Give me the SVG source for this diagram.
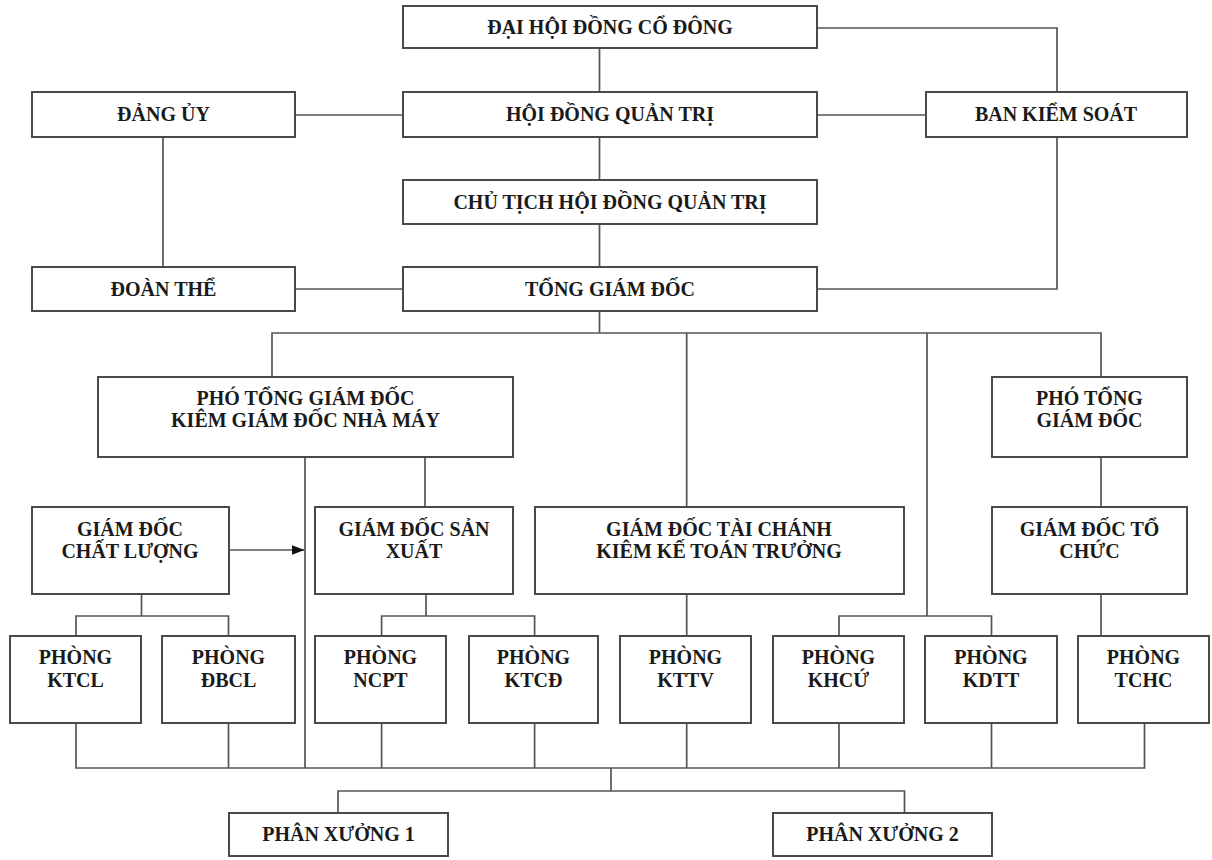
<svg xmlns="http://www.w3.org/2000/svg" width="1212" height="860" viewBox="0 0 1212 860">
<style>
.b{fill:#fff;stroke:#4a4a4a;stroke-width:2}
.t{font-family:"Liberation Serif","Times New Roman",serif;font-weight:bold;font-size:20px;fill:#1a1a1a;text-anchor:middle}
.c{fill:none;stroke:#555;stroke-width:1.7}
</style>
<defs>
<marker id="ah" viewBox="0 0 13 10" refX="13" refY="5" markerWidth="13" markerHeight="10" markerUnits="userSpaceOnUse" orient="auto">
<path d="M0,0 L13,5 L0,10 Z" fill="#111"/>
</marker>
</defs>
<rect width="1212" height="860" fill="#fff"/>
<g id="connectors">
<path class="c" d="M599.5,48V92M599.5,137V180M599.5,224V267M599.5,311V333"/>
<path class="c" d="M295,115H402M295,289H402M163,137V267"/>
<path class="c" d="M817,28H1057V92M1057,137V289H817M817,115H926"/>
<path class="c" d="M272,377V333H1101V377M686.7,333V507M927,333V616M1101,457V507"/>
<path class="c" d="M305,457V768M425,457V507"/>
<path class="c" d="M141.5,594V616M76,636V616H228.5V636"/>
<path class="c" d="M426,594V616M381.6,636V616H534.6V636"/>
<path class="c" d="M686.7,594V636"/>
<path class="c" d="M839,636V616H991.5V636"/>
<path class="c" d="M1101,594V636"/>
<path class="c" d="M76,723V768H1144.5V723M228.5,723V768M381.6,723V768M534.6,723V768M686.7,723V768M839,723V768M991.5,723V768"/>
<path class="c" d="M611,768V791M338,813V791H904.5V813"/>
<path class="c" d="M229,550H304.5" marker-end="url(#ah)"/>
</g>
<g id="dhcd"><rect class="b" x="403" y="6" width="414" height="42"/><text class="t" x="610" y="34">ĐẠI HỘI ĐỒNG CỔ ĐÔNG</text></g>
<g id="dangUy"><rect class="b" x="32" y="92" width="263" height="45"/><text class="t" x="163.5" y="121">ĐẢNG ỦY</text></g>
<g id="hdqt"><rect class="b" x="403" y="92" width="414" height="45"/><text class="t" x="610" y="121">HỘI ĐỒNG QUẢN TRỊ</text></g>
<g id="bks"><rect class="b" x="926" y="92" width="261" height="45"/><text class="t" x="1056" y="121">BAN KIỂM SOÁT</text></g>
<g id="ctHdqt"><rect class="b" x="403" y="180" width="414" height="44"/><text class="t" x="610" y="209">CHỦ TỊCH HỘI ĐỒNG QUẢN TRỊ</text></g>
<g id="doanThe"><rect class="b" x="32" y="267" width="263" height="44"/><text class="t" x="163.5" y="296">ĐOÀN THỂ</text></g>
<g id="tgd"><rect class="b" x="403" y="267" width="414" height="44"/><text class="t" x="610" y="296">TỔNG GIÁM ĐỐC</text></g>
<g id="ptgdNm"><rect class="b" x="98" y="377" width="415" height="80"/><text class="t" x="305.5" y="405">PHÓ TỔNG GIÁM ĐỐC</text><text class="t" x="305.5" y="427">KIÊM GIÁM ĐỐC NHÀ MÁY</text></g>
<g id="ptgd"><rect class="b" x="992" y="377" width="195" height="80"/><text class="t" x="1089.5" y="405">PHÓ TỔNG</text><text class="t" x="1089.5" y="427">GIÁM ĐỐC</text></g>
<g id="gdcl"><rect class="b" x="32" y="507" width="197" height="87"/><text class="t" x="130" y="536">GIÁM ĐỐC</text><text class="t" x="130" y="558">CHẤT LƯỢNG</text></g>
<g id="gdsx"><rect class="b" x="315" y="507" width="198" height="87"/><text class="t" x="414" y="536">GIÁM ĐỐC SẢN</text><text class="t" x="414" y="558">XUẤT</text></g>
<g id="gdtc"><rect class="b" x="535" y="507" width="369" height="87"/><text class="t" x="719" y="536">GIÁM ĐỐC TÀI CHÁNH</text><text class="t" x="719" y="558">KIÊM KẾ TOÁN TRƯỞNG</text></g>
<g id="gdtoc"><rect class="b" x="992" y="507" width="195" height="87"/><text class="t" x="1089.5" y="536">GIÁM ĐỐC TỔ</text><text class="t" x="1089.5" y="558">CHỨC</text></g>
<g id="ktcl"><rect class="b" x="10" y="636" width="131" height="87"/><text class="t" x="75.5" y="664">PHÒNG</text><text class="t" x="75.5" y="687">KTCL</text></g>
<g id="dbcl"><rect class="b" x="162" y="636" width="133" height="87"/><text class="t" x="228.5" y="664">PHÒNG</text><text class="t" x="228.5" y="687">ĐBCL</text></g>
<g id="ncpt"><rect class="b" x="315" y="636" width="131" height="87"/><text class="t" x="380.5" y="664">PHÒNG</text><text class="t" x="380.5" y="687">NCPT</text></g>
<g id="ktcd"><rect class="b" x="469" y="636" width="129" height="87"/><text class="t" x="533.5" y="664">PHÒNG</text><text class="t" x="533.5" y="687">KTCĐ</text></g>
<g id="kttv"><rect class="b" x="620" y="636" width="131" height="87"/><text class="t" x="685.5" y="664">PHÒNG</text><text class="t" x="685.5" y="687">KTTV</text></g>
<g id="khcu"><rect class="b" x="773" y="636" width="131" height="87"/><text class="t" x="838.5" y="664">PHÒNG</text><text class="t" x="838.5" y="687">KHCỨ</text></g>
<g id="kdtt"><rect class="b" x="925" y="636" width="132" height="87"/><text class="t" x="991" y="664">PHÒNG</text><text class="t" x="991" y="687">KDTT</text></g>
<g id="tchc"><rect class="b" x="1078" y="636" width="131" height="87"/><text class="t" x="1143.5" y="664">PHÒNG</text><text class="t" x="1143.5" y="687">TCHC</text></g>
<g id="px1"><rect class="b" x="229" y="813" width="219" height="43"/><text class="t" x="338.5" y="841">PHÂN XƯỞNG 1</text></g>
<g id="px2"><rect class="b" x="773" y="813" width="219" height="43"/><text class="t" x="882.5" y="841">PHÂN XƯỞNG 2</text></g>
</svg>
